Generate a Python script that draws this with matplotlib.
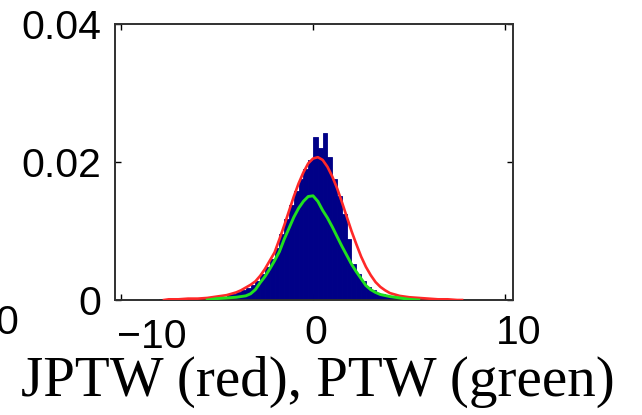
import numpy as np
import matplotlib.pyplot as plt
from matplotlib.transforms import ScaledTranslation

# histograma (centros de bin, ancho 0.25)
hist_x = [-7.875, -7.625, -7.375, -7.125, -6.875, -6.625, -6.375, -6.125,
          -5.875, -5.625, -5.375, -5.125, -4.875, -4.625, -4.375, -4.125,
          -3.875, -3.625, -3.375, -3.125, -2.875, -2.625, -2.375, -2.125,
          -1.875, -1.625, -1.375, -1.125, -0.875, -0.625, -0.375, -0.125,
          0.125, 0.375, 0.625, 0.875, 1.125, 1.375, 1.625, 1.875,
          2.125, 2.375, 2.625, 2.875, 3.125, 3.375, 3.625, 3.875,
          4.125, 4.375, 4.625, 4.875, 5.125, 5.375, 5.625, 5.875,
          6.125, 6.375, 6.625, 6.875, 7.125, 7.375, 7.625, 7.875]
hist_y = [0.0001, 0.0000, 0.0001, 0.0001, 0.0002, 0.0001, 0.0002, 0.0003,
          0.0002, 0.0004, 0.0003, 0.0005, 0.0006, 0.0005, 0.0008, 0.0009,
          0.0011, 0.0014, 0.0017, 0.0022, 0.0028, 0.0037, 0.0048, 0.0060,
          0.0076, 0.0096, 0.0117, 0.0138, 0.0158, 0.0176, 0.0190, 0.0203,
          0.0236, 0.0221, 0.0242, 0.0207, 0.0176, 0.0150, 0.0124, 0.0088,
          0.0052, 0.0038, 0.0027, 0.0019, 0.0014, 0.0010, 0.0008, 0.0006,
          0.0005, 0.0005, 0.0004, 0.0006, 0.0004, 0.0003, 0.0002, 0.0003,
          0.0002, 0.0001, 0.0001, 0.0001, 0.0000, 0.0001, 0.0000, 0.0000]

# JPTW (rojo)
red_x = [-7.75, -7.5, -7.0, -6.5, -6.0, -5.5, -5.0, -4.5, -4.0, -3.75, -3.5,
         -3.25, -3.0, -2.75, -2.5, -2.25, -2.0, -1.75, -1.5, -1.25, -1.0,
         -0.75, -0.5, -0.25, 0.0, 0.25, 0.5, 0.75, 1.0, 1.25, 1.5, 1.75,
         2.0, 2.25, 2.5, 2.75, 3.0, 3.25, 3.5, 3.75, 4.0, 4.5, 5.0, 5.5,
         6.0, 6.5, 7.0, 7.5, 7.75]
red_y = [0.0000, 0.0001, 0.0001, 0.0002, 0.0002, 0.0003, 0.0005, 0.0007,
         0.0011, 0.0014, 0.0018, 0.0022, 0.0027, 0.0035, 0.0045, 0.0057,
         0.0069, 0.0088, 0.0108, 0.0129, 0.0150, 0.0169, 0.0185, 0.0198,
         0.0205, 0.0207, 0.0203, 0.0193, 0.0179, 0.0162, 0.0142, 0.0121,
         0.0100, 0.0081, 0.0063, 0.0048, 0.0036, 0.0026, 0.0019, 0.0014,
         0.0010, 0.0006, 0.0004, 0.0003, 0.0002, 0.0001, 0.0001, 0.0000,
         0.0000]

# PTW (verde)
green_x = [-5.5, -5.0, -4.5, -4.0, -3.5, -3.25, -3.0, -2.75, -2.5, -2.25,
           -2.0, -1.75, -1.5, -1.25, -1.0, -0.75, -0.5, -0.25, 0.0, 0.25,
           0.5, 0.75, 1.0, 1.25, 1.5, 1.75, 2.0, 2.25, 2.5, 2.75, 3.0,
           3.25, 3.5, 4.0, 4.5, 5.0, 5.5]
green_y = [0.0000, 0.0002, 0.0003, 0.0004, 0.0006, 0.0009, 0.0015, 0.0025,
           0.0034, 0.0045, 0.0057, 0.0070, 0.0088, 0.0104, 0.0120, 0.0133,
           0.0143, 0.0150, 0.0151, 0.0143, 0.0130, 0.0119, 0.0106, 0.0092,
           0.0078, 0.0065, 0.0052, 0.0041, 0.0031, 0.0021, 0.0015, 0.0011,
           0.0008, 0.0005, 0.0003, 0.0001, 0.0000]

xticks = [-10, 0, 10]
xtick_labels = ['\u221210', '0', '10']
yticks = [0, 0.02, 0.04]
ytick_labels = ['0', '0.02', '0.04']

W, H = 642, 415
fig = plt.figure(figsize=(W / 100, H / 100), dpi=100)
ax = fig.add_axes([115 / W, (H - 300) / H, 398 / W, 276 / H])

ax.bar(hist_x, hist_y, width=0.25, color='#000087', edgecolor='#000087',
       linewidth=0.6, zorder=2)
ax.plot(red_x, red_y, color='#ff2828', linewidth=1.9, zorder=3)
ax.plot(green_x, green_y, color='#1fe01f', linewidth=2.1, zorder=4)

ax.set_xlim(-10.3, 10.4)
ax.set_ylim(0, 0.04)
ax.set_xticks(xticks)
ax.set_xticklabels(xtick_labels)
ax.set_yticks(yticks)
ax.set_yticklabels(ytick_labels)

ax.tick_params(direction='in', top=True, right=True, length=4, width=1,
               labelsize=29.5, pad=10)
for lbl in ax.get_xticklabels() + ax.get_yticklabels():
    lbl.set_family('Liberation Sans')
for s in ax.spines.values():
    s.set_linewidth(1.4)
    s.set_color('#303030')

# desplazamientos de las etiquetas del eje x (en px)
offsets = [(31, -4), (3, 0), (13, 0)]
for lbl, (dx, dy) in zip(ax.get_xticklabels(), offsets):
    lbl.set_transform(lbl.get_transform() +
                      ScaledTranslation(dx / 100, dy / 100, fig.dpi_scale_trans))

# trozo de la etiqueta del grafico vecino (cortado en el original)
fig.text(7 / W, 1 - 323 / H, '0', ha='center', va='center', fontsize=29.5,
         family='Liberation Sans')

fig.text(318 / W, 1 - 396 / H, 'JPTW (red), PTW (green)', ha='center',
         va='baseline', fontsize=41, family='Liberation Serif')

fig.savefig('out.png', dpi=100)
